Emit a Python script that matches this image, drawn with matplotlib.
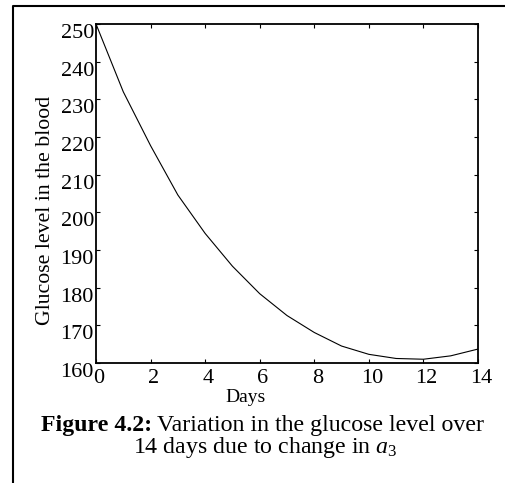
import numpy as np
import matplotlib
matplotlib.use("Agg")
import matplotlib.pyplot as plt
from matplotlib.lines import Line2D
from matplotlib.transforms import ScaledTranslation

# -------------------------------
# Data: glucose level per day
# -------------------------------
days = [0, 1, 2, 3, 4, 5, 6, 7, 8, 9, 10, 11, 12, 13, 14]
glucose = [250.0, 232.0, 217.7, 204.6, 194.4, 185.7, 178.4, 172.6,
           168.1, 164.5, 162.3, 161.2, 161.0, 161.9, 163.7]

x_ticks = [0, 2, 4, 6, 8, 10, 12, 14]
y_ticks = [160, 170, 180, 190, 200, 210, 220, 230, 240, 250]

plt.rcParams['font.family'] = ['Liberation Serif', 'DejaVu Serif']
plt.rcParams['mathtext.fontset'] = 'custom'
plt.rcParams['mathtext.rm'] = 'Liberation Serif'
plt.rcParams['mathtext.it'] = 'Liberation Serif:italic'

W, H = 505, 483
fig = plt.figure(figsize=(W / 100, H / 100), dpi=100)

# axes box in pixel units
left, right, top, bottom = 96, 478, 24, 363
ax = fig.add_axes([left / W, 1 - bottom / H, (right - left) / W, (bottom - top) / H])

ax.plot(days, glucose, color='black', linewidth=0.8)

ax.set_xlim(0, 14)
ax.set_ylim(160, 250)
ax.set_xticks(x_ticks)
ax.set_yticks(y_ticks)
ax.tick_params(direction='in', length=3, width=0.8, top=True, right=True,
               labelsize=16)
ax.tick_params(axis='x', pad=4)
ax.tick_params(axis='y', pad=1.5)
for s in ax.spines.values():
    s.set_linewidth(1.3)

# tick labels sit a little right / below their ticks
x_shift = ScaledTranslation(3 / 100, 0, fig.dpi_scale_trans)
y_shift = ScaledTranslation(0, -7 / 100, fig.dpi_scale_trans)
for lab in ax.get_xticklabels():
    lab.set_transform(lab.get_transform() + x_shift)
for lab in ax.get_yticklabels():
    lab.set_transform(lab.get_transform() + y_shift)

# axis labels
fig.text(246 / W, 1 - 397 / H, "Days", ha='center', va='center', fontsize=14)
fig.text(46 / W, 1 - 210 / H, "Glucose level in the blood", rotation=90,
         ha='center', va='center', fontsize=15.7)

# caption
fig.text(152 / W, 1 - 425 / H, "Figure 4.2:", ha='right', va='center',
         fontsize=17.2, fontweight='bold')
fig.text(157 / W, 1 - 425 / H, "Variation in the glucose level over",
         ha='left', va='center', fontsize=17.2)
fig.text(265 / W, 1 - 448 / H, r"14 days due to change in $a_3$",
         ha='center', va='center', fontsize=17.2)

# page frame
fig.add_artist(Line2D([13 / W, 13 / W, 1.0], [0.0, 1 - 6 / H, 1 - 6 / H],
                      transform=fig.transFigure, color='black', linewidth=1.5))

fig.savefig("out.png", dpi=100)
